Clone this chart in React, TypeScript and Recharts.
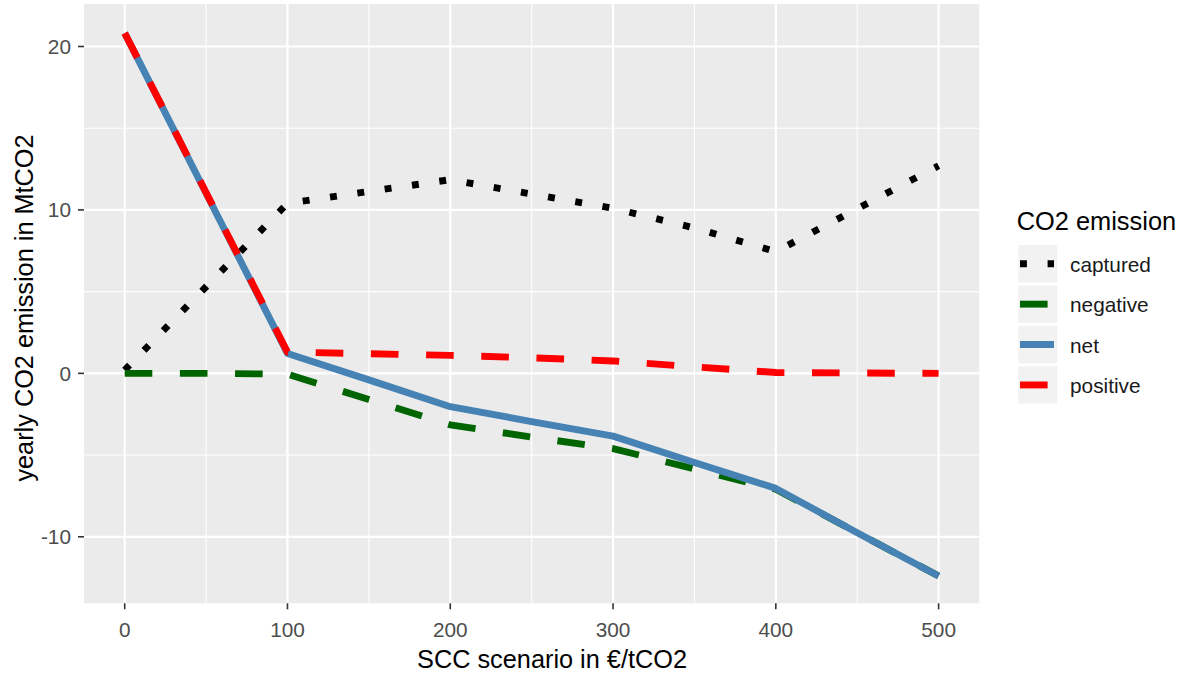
import React from 'react';
import { LineChart, Line, XAxis, YAxis, CartesianGrid, Legend } from 'recharts';

// ---- data ----
const scc = [0, 50, 100, 150, 200, 250, 300, 350, 400, 450, 500];
const captured = [0.2, 5.3, 10.4, 11.13, 11.85, 10.97, 10.1, 8.9, 7.45, 10.07, 12.7];
const negative = [0, 0, -0.05, -1.6, -3.15, -3.9, -4.6, -5.85, -7.09, -9.75, -12.4];
const net = [20.82, 11.02, 1.22, -0.4, -2.04, -2.95, -3.84, -5.45, -7.04, -9.75, -12.4];
const positive = [20.82, 11.06, 1.3, 1.2, 1.1, 0.95, 0.76, 0.4, 0.05, 0.02, 0];

const xTicks = [0, 100, 200, 300, 400, 500];
const yTicks = [-10, 0, 10, 20];
const xMinor = [50, 150, 250, 350, 450];
const yMinor = [-5, 5, 15];

const legendTitle = 'CO2 emission';
const xTitle = 'SCC scenario in €/tCO2';
const yTitle = 'yearly CO2 emission in MtCO2';

const data = scc.map((x, i) => ({
  scc: x,
  captured: captured[i],
  negative: negative[i],
  net: net[i],
  positive: positive[i],
}));

const LW = 6.9;
const series = [
  { key: 'captured', color: '#000000', dash: `${LW} ${LW * 3}` },
  { key: 'negative', color: '#006400', dash: `${LW * 4} ${LW * 4}` },
  { key: 'net', color: '#4682B4', dash: undefined as string | undefined },
  { key: 'positive', color: '#FF0000', dash: `${LW * 4} ${LW * 4}` },
];

const FONT = "'Liberation Sans', Arial, sans-serif";

const renderLegend = () => (
  <svg width={185} height={220} style={{ overflow: 'visible', display: 'block' }}>
    <text x={16.7} y={35} fontSize={25.4} fill="#000" fontFamily={FONT}>
      {legendTitle}
    </text>
    {series.map((s, i) => {
      const top = 50 + i * 40.4;
      const cy = top + 18.75;
      return (
        <g key={s.key}>
          <rect x={18.3} y={top} width={39} height={37.5} fill="#F2F2F2" />
          <line
            x1={20}
            x2={54}
            y1={cy}
            y2={cy}
            stroke={s.color}
            strokeWidth={LW}
            strokeDasharray={s.dash}
            strokeLinecap="butt"
          />
          <text x={70} y={cy + 8} fontSize={20.8} fill="#1A1A1A" fontFamily={FONT}>
            {s.key}
          </text>
        </g>
      );
    })}
  </svg>
);

export default function App() {
  return (
    <div
      style={{
        position: 'absolute',
        left: 0,
        top: 0,
        width: 1185,
        height: 675,
        background: '#fff',
        fontFamily: FONT,
      }}
    >
      <LineChart
        width={1185}
        height={675}
        data={data}
        margin={{ top: 4, right: 205.7, left: 0, bottom: 0 }}
      >
        <CartesianGrid
          fill="#EBEBEB"
          fillOpacity={1}
          stroke="#FFFFFF"
          strokeWidth={1.1}
          horizontalValues={yMinor}
          verticalValues={xMinor}
        />
        <CartesianGrid
          stroke="#FFFFFF"
          strokeWidth={2.2}
          horizontalValues={yTicks}
          verticalValues={xTicks}
        />
        <XAxis
          dataKey="scc"
          type="number"
          domain={[-25, 525]}
          ticks={xTicks}
          allowDataOverflow
          height={71.7}
          axisLine={false}
          tickLine={{ stroke: '#333333', strokeWidth: 1.6 }}
          tickSize={6}
          tickMargin={12.5}
          tick={{ fontSize: 20.8, fill: '#4D4D4D' }}
          label={{
            content: () => (
              <text x={552} y={668.3} textAnchor="middle" fontSize={25.3} fill="#000" fontFamily={FONT}>
                {xTitle}
              </text>
            ),
          }}
        />
        <YAxis
          type="number"
          domain={[-14.07, 22.6]}
          ticks={yTicks}
          allowDataOverflow
          width={84}
          axisLine={false}
          tickLine={{ stroke: '#333333', strokeWidth: 1.6 }}
          tickSize={6}
          tickMargin={7}
          tick={{ fontSize: 20.8, fill: '#4D4D4D' }}
          label={{
            content: () => (
              <text
                x={33.3}
                y={308}
                transform="rotate(-90 33.3 308)"
                textAnchor="middle"
                fontSize={25.3}
                fill="#000"
                fontFamily={FONT}
              >
                {yTitle}
              </text>
            ),
          }}
        />
        <Legend
          layout="horizontal"
          verticalAlign="middle"
          align="center"
          wrapperStyle={{ position: 'absolute', left: 1000, top: 195, width: 185, height: 220 }}
          content={renderLegend}
        />
        {series.map((s) => (
          <Line
            key={s.key}
            type="linear"
            dataKey={s.key}
            stroke={s.color}
            strokeWidth={LW}
            strokeDasharray={s.dash}
            strokeLinecap="butt"
            strokeLinejoin="round"
            dot={false}
            activeDot={false}
            isAnimationActive={false}
          />
        ))}
      </LineChart>
    </div>
  );
}
